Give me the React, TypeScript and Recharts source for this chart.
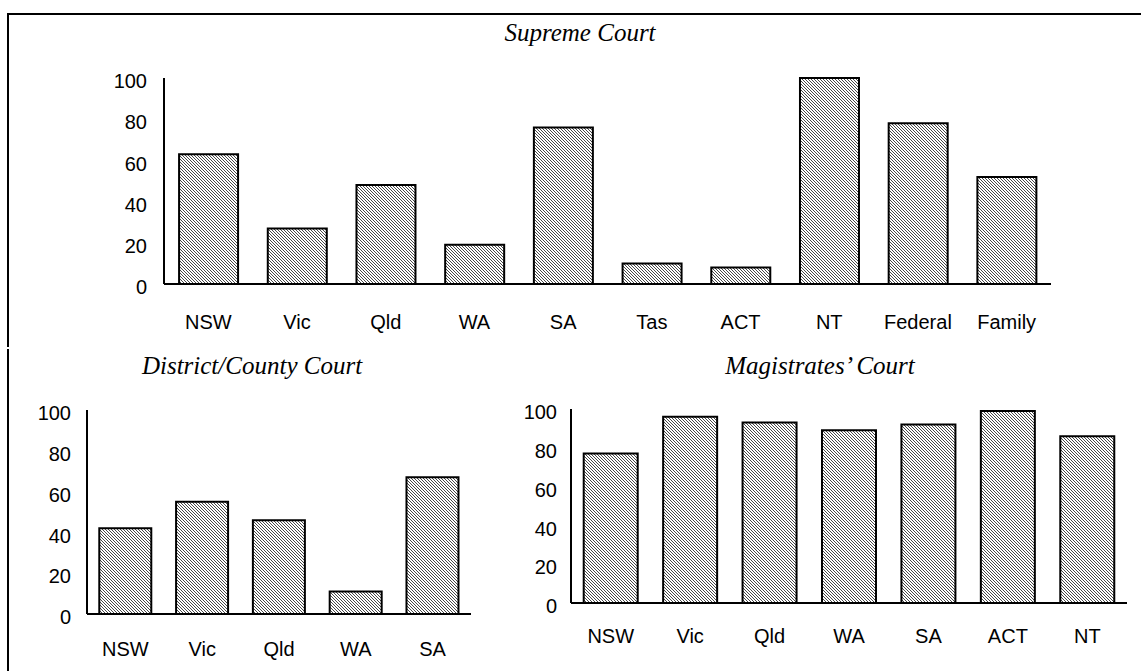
import React from 'react';
import { Bar, BarChart, XAxis, YAxis } from 'recharts';

// values (percent)
const supremeCategories = ['NSW', 'Vic', 'Qld', 'WA', 'SA', 'Tas', 'ACT', 'NT', 'Federal', 'Family'];
const supremeValues = [63, 27, 48, 19, 76, 10, 8, 100, 78, 52];

const districtCategories = ['NSW', 'Vic', 'Qld', 'WA', 'SA'];
const districtValues = [42, 55, 46, 11, 67];

const magistratesCategories = ['NSW', 'Vic', 'Qld', 'WA', 'SA', 'ACT', 'NT'];
const magistratesValues = [77, 96, 93, 89, 92, 99, 86];

const yTicks = [0, 20, 40, 60, 80, 100];

const toRows = (cats: string[], vals: number[]) => cats.map((name, i) => ({ name, value: vals[i] }));

const sans = '"Liberation Sans", Arial, sans-serif';
const serif = '"Liberation Serif", "Times New Roman", serif';

type PanelProps = {
  data: { name: string; value: number }[];
  left: number;
  top: number;
  width: number;
  height: number;
  margin: { top: number; right: number; bottom: number; left: number };
  gap: string;
  xMargin: number;
  yMargin: number;
};

function Panel({ data, left, top, width, height, margin, gap, xMargin, yMargin }: PanelProps) {
  return (
    <div style={{ position: 'absolute', left, top }}>
      <BarChart width={width} height={height} data={data} margin={margin} barCategoryGap={gap}>
        <XAxis
          dataKey="name"
          height={40}
          axisLine={{ stroke: '#000', strokeWidth: 2 }}
          tickLine={false}
          tickSize={0}
          tickMargin={xMargin}
          interval={0}
          tick={{ fill: '#000', fontSize: 20, fontFamily: sans }}
        />
        <YAxis
          width={60}
          domain={[0, 100]}
          ticks={yTicks}
          axisLine={{ stroke: '#000', strokeWidth: 2 }}
          tickLine={false}
          tickSize={0}
          tickMargin={yMargin}
          tick={{ fill: '#000', fontSize: 20, fontFamily: sans, dy: 3 }}
        />
        <Bar dataKey="value" fill="url(#hatch)" stroke="#000" strokeWidth={2} isAnimationActive={false} />
      </BarChart>
    </div>
  );
}

export default function App() {
  return (
    <div style={{ position: 'absolute', left: 0, top: 0, width: 1141, height: 671, background: '#fff' }}>
      <svg width={0} height={0} style={{ position: 'absolute' }}>
        <defs>
          <pattern id="hatch" patternUnits="userSpaceOnUse" width={3} height={3}>
            <rect width={3} height={3} fill="#fff" />
            <path d="M0,0 L3,3 M-1,2 L1,4 M2,-1 L4,1" stroke="#333" strokeWidth={0.9} />
          </pattern>
        </defs>
      </svg>

      <Panel
        data={toRows(supremeCategories, supremeValues)}
        left={0}
        top={0}
        width={1141}
        height={345}
        margin={{ top: 78, right: 90, bottom: 21, left: 104 }}
        gap="17%"
        xMargin={31}
        yMargin={17}
      />
      <Panel
        data={toRows(districtCategories, districtValues)}
        left={0}
        top={349}
        width={480}
        height={322}
        margin={{ top: 61, right: 9, bottom: 17, left: 27 }}
        gap="16%"
        xMargin={28}
        yMargin={16}
      />
      <Panel
        data={toRows(magistratesCategories, magistratesValues)}
        left={480}
        top={349}
        width={661}
        height={322}
        margin={{ top: 60, right: 14, bottom: 28, left: 31 }}
        gap="16%"
        xMargin={26}
        yMargin={14}
      />

      <svg width={1141} height={671} style={{ position: 'absolute', left: 0, top: 0, pointerEvents: 'none' }}>
        <rect x={7} y={13} width={1134} height={2} fill="#000" />
        <rect x={7} y={13} width={2} height={334} fill="#000" />
        <rect x={7} y={349} width={2} height={322} fill="#000" />
        <g fontFamily={serif} fontStyle="italic" fontSize={25} textAnchor="middle" fill="#000">
          <text x={580} y={41}>Supreme Court</text>
          <text x={252} y={374}>District/County Court</text>
          <text x={820} y={374}>Magistrates’ Court</text>
        </g>
      </svg>
    </div>
  );
}
